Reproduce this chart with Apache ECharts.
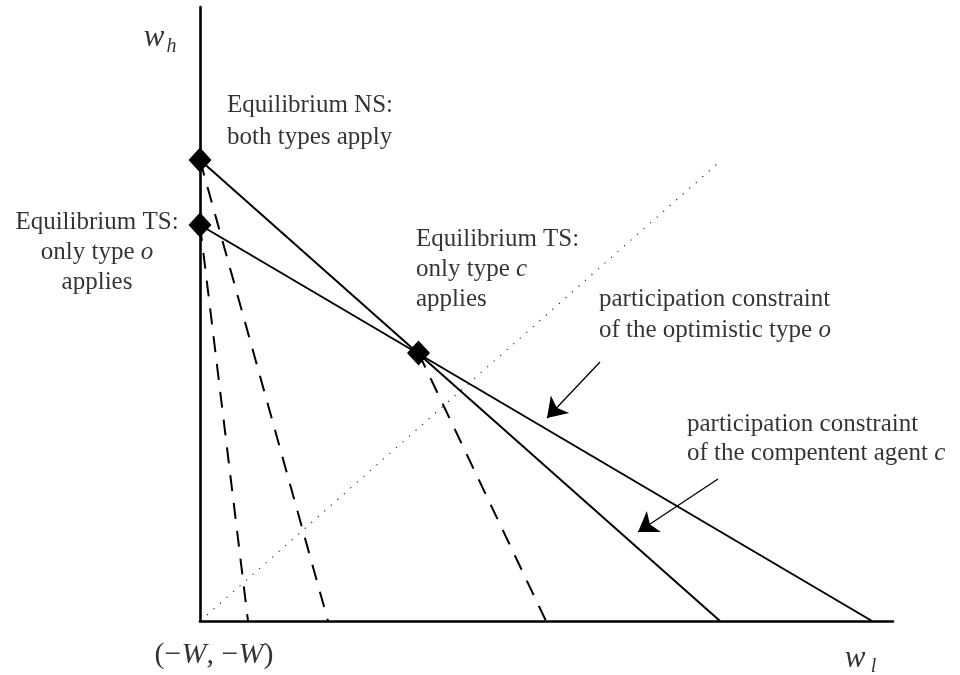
<!DOCTYPE html>
<html><head><meta charset="utf-8">
<script src="https://cdn.jsdelivr.net/npm/echarts@6/dist/echarts.min.js"></script>
<style>html,body{margin:0;padding:0;background:#fff}#c{width:960px;height:675px}</style>
</head><body><div id="c"></div>
<script>
// Data (axis units; origin = (-W,-W))
const equilibria = [[0, 46.1], [0, 39.6], [21.85, 26.8]];
const constraintO = [[0, 39.6], [67.2, 0]];
const constraintC = [[0, 46.1], [52.0, 0]];
const dashedNS = [[0, 46.1], [12.8, 0]];
const dashedTSo = [[0, 39.6], [4.8, 0]];
const dashedTSc = [[21.85, 26.8], [34.6, 0]];
const diagonal = [[0.7, 0.6], [51.7, 45.7]];
const arrowO = [[40.0, 25.9], [34.7, 20.3]];
const arrowC = [[51.8, 14.2], [43.8, 8.9]];

const FONT = "'Liberation Serif', 'Times New Roman', serif";
const FS = 25;
const INK = '#000';

function note(coord, text, align, lh) {
  return {
    value: coord,
    label: {
      show: true, position: [0, 0], align: align, verticalAlign: 'middle',
      formatter: text, color: INK, fontFamily: FONT, fontSize: FS, lineHeight: lh,
      rich: {
        r: { fontFamily: FONT, fontSize: FS, lineHeight: lh, color: INK },
        i: { fontFamily: FONT, fontSize: FS, fontStyle: 'italic', lineHeight: lh, color: INK }
      }
    }
  };
}
function mathLabel(coord, text, size) {
  return {
    value: coord,
    label: {
      show: true, position: [0, 0], align: 'center', verticalAlign: 'middle',
      formatter: text, color: INK, fontFamily: FONT, fontSize: size,
      rich: {
        i: { fontFamily: FONT, fontSize: size, fontStyle: 'italic', color: INK },
        r: { fontFamily: FONT, fontSize: size, color: INK }
      }
    }
  };
}

const lineStyleSolid = { color: '#000', width: 2, type: 'solid' };
const lineStyleDash = { color: '#000', width: 2, type: [16, 12] };

function seg(data, style) {
  return { type: 'line', data: data, symbol: 'none', lineStyle: style, silent: true, z: 3 };
}

const chart = echarts.init(document.getElementById('c'), null, { renderer: 'canvas' });
chart.setOption({
  animation: false,
  backgroundColor: '#fff',
  grid: { left: 200, right: 67, top: 7, bottom: 54 },
  xAxis: {
    type: 'value', min: 0, max: 69.3,
    axisLine: { show: true, onZero: false, lineStyle: { color: '#000', width: 2.6 } },
    axisTick: { show: false }, axisLabel: { show: false }, splitLine: { show: false }
  },
  yAxis: {
    type: 'value', min: 0, max: 61.4,
    axisLine: { show: true, onZero: false, lineStyle: { color: '#000', width: 2.6 } },
    axisTick: { show: false }, axisLabel: { show: false }, splitLine: { show: false }
  },
  series: [
    seg(diagonal, { color: '#222', width: 1.1, type: [1.2, 7.5] }),
    seg(constraintO, lineStyleSolid),
    seg(constraintC, lineStyleSolid),
    seg(dashedNS, lineStyleDash),
    seg(dashedTSo, lineStyleDash),
    seg(dashedTSc, lineStyleDash),
    {
      type: 'lines', coordinateSystem: 'cartesian2d', silent: true, z: 4,
      symbol: ['none', 'arrow'], symbolSize: 19,
      lineStyle: { color: '#000', width: 1.3, opacity: 1, curveness: 0 },
      data: [{ coords: arrowO }, { coords: arrowC }]
    },
    {
      type: 'scatter', data: equilibria, symbol: 'diamond', symbolSize: [23, 25],
      itemStyle: { color: '#000', opacity: 1 }, z: 5, silent: true
    },
    {
      type: 'scatter', symbolSize: 0, clip: false, silent: true, z: 6,
      data: [
        note([2.7, 50.0], '{r|Equilibrium NS:}\n{r|both types apply}', 'left', 32),
        note([-10.3, 36.9], '{r|Equilibrium TS:}\n{r|only type }{i|o}\n{r|applies}', 'center', 30),
        note([21.6, 35.2], '{r|Equilibrium TS:}\n{r|only type }{i|c}\n{r|applies}', 'left', 30),
        note([39.9, 30.65], '{r|participation constraint}\n{r|of the optimistic type }{i|o}', 'left', 31),
        note([48.7, 18.2], '{r|participation constraint}\n{r|of the compentent agent }{i|c}', 'left', 29),
        mathLabel([-4.6, 58.3], '{i|w}', 31),
        mathLabel([-2.85, 57.4], '{i|h}', 20),
        mathLabel([1.4, -3.4], '{r|(−}{i|W}{r|, −}{i|W}{r|)}', 30),
        mathLabel([65.5, -3.8], '{i|w}', 31),
        mathLabel([67.35, -4.6], '{i|l}', 20)
      ]
    }
  ]
});
</script>
</body></html>
